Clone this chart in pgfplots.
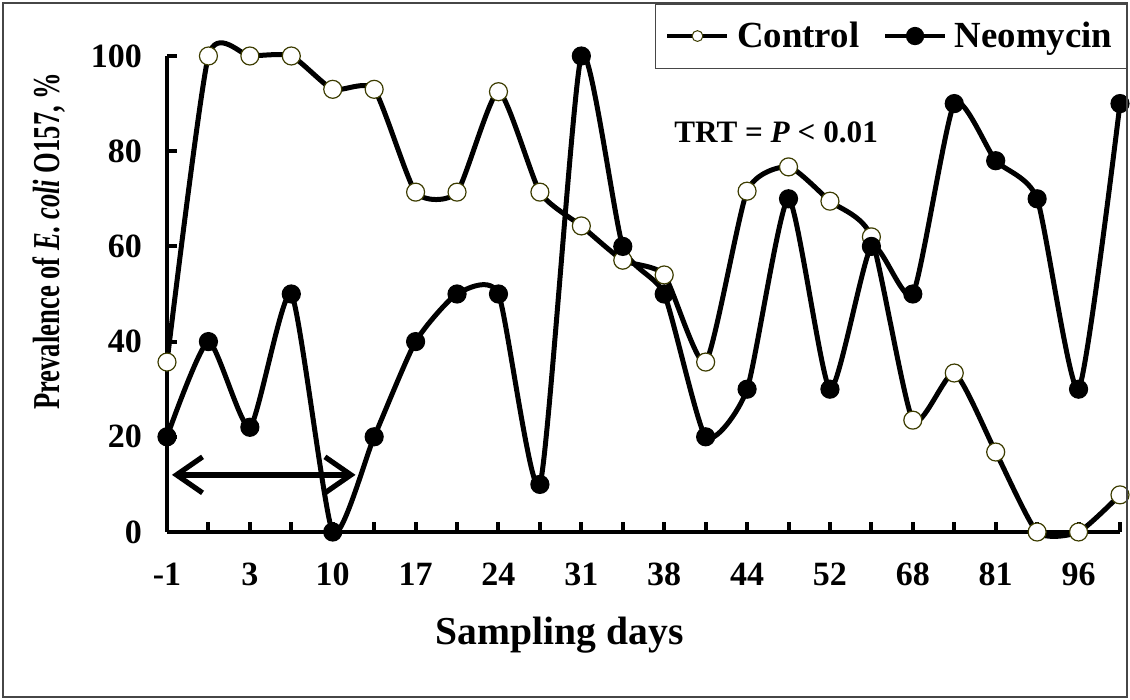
\documentclass[border=0pt]{standalone}
\usepackage{fontspec}
\setmainfont{Liberation Serif}
\newfontfamily\ylfont{Liberation Serif}[FakeStretch=0.7]
\usepackage{pgfplots}
\usepackage{pgfplotstable}
\pgfplotsset{compat=1.18}
\usetikzlibrary{arrows.meta}
\definecolor{medge}{RGB}{60,60,0}
\definecolor{framec}{RGB}{70,70,70}

\pgfplotstableread{
i ctrl neo
0 35.7 20
1 100 40
2 100 22
3 100 50
4 93 0
5 93 20
6 71.4 40
7 71.4 50
8 92.5 50
9 71.4 10
10 64.3 100
11 57.1 60
12 54 50
13 35.7 20
14 71.6 30
15 76.7 70
16 69.5 30
17 62 60
18 23.5 50
19 33.4 90
20 16.8 78
21 0 70
22 0 30
23 7.8 90
}\data

\begin{document}
\begin{tikzpicture}
\begin{axis}[name=ax, at={(0,0)}, anchor=south west,
  width=476.5pt, height=238pt, scale only axis,
  xmin=0, xmax=23, ymin=0, ymax=100,
  axis x line*=bottom, axis y line*=left,
  axis line style={line width=2pt,-},
  tick align=inside, major tick length=5pt,
  every tick/.style={black, line width=2pt},
  xtick={0,...,23},
  xticklabels={-1,,3,,10,,17,,24,,31,,38,,44,,52,,68,,81,,96,},
  ytick={0,20,...,100},
  /pgf/number format/assume math mode=true,
  ticklabel style={font=\bfseries\fontsize{17}{19}\selectfont},
  xticklabel shift=12pt, yticklabel shift=9pt,
  clip=false,
  xlabel={Sampling days},
  ylabel={Prevalence of \textit{E. coli} O157, \%},
  every axis x label/.style={at={(rel axis cs:0.412,0)}, anchor=base, yshift=-56.5pt,
    font=\bfseries\fontsize{19.8}{22}\selectfont},
  every axis y label/.style={at={(rel axis cs:0,0.611)}, xshift=-59pt, rotate=90, anchor=center,
    font=\ylfont\bfseries\fontsize{19}{21}\selectfont},
  legend style={at={(1.00735,1.1113)}, anchor=north east, legend columns=2,
    draw=framec, line width=0.75pt, font=\bfseries\fontsize{18.4}{20}\selectfont,
    inner xsep=5pt, inner ysep=7pt,
    /tikz/every odd column/.append style={column sep=2pt},
    /tikz/every even column/.append style={column sep=10pt}},
]
\addplot[black, line width=2.5pt, smooth, tension=0.35, mark=*, mark size=4.5pt,
  mark options={fill=white, draw=medge, line width=0.6pt},
  legend image code/.code={
    \draw[black, line width=1.8pt] (0pt,0pt) -- (30pt,0pt);
    \draw[fill=white, draw=medge, line width=0.5pt] (15pt,0pt) circle (2.7pt);}]
  table[x=i, y=ctrl]{\data};
\addlegendentry{Control}
\addplot[black, line width=2.5pt, smooth, tension=0.35, mark=*, mark size=4.5pt,
  mark options={fill=black, draw=black, line width=0.6pt},
  legend image code/.code={
    \draw[black, line width=1.8pt] (0pt,0pt) -- (30pt,0pt);
    \fill[black] (15pt,0pt) circle (3.3pt);}]
  table[x=i, y=neo]{\data};
\addlegendentry{Neomycin}
\node[font=\bfseries\fontsize{15.6}{17}\selectfont] at (axis cs:14.7,84) {TRT = \textit{P} < 0.01};
\draw[line width=2.8pt, {Straight Barb[length=13pt,width=18pt,line width=2.6pt]}-{Straight Barb[length=13pt,width=18pt,line width=2.6pt]}]
  (axis cs:0.12,12) -- (axis cs:4.55,12);
\end{axis}
\draw[framec, line width=0.75pt] (ax.south west) ++(-82pt,-82.5pt) rectangle ++(562pt,347pt);
\path (ax.south west) ++(-83.5pt,-84pt) rectangle ++(565pt,350pt);
\end{tikzpicture}
\end{document}
